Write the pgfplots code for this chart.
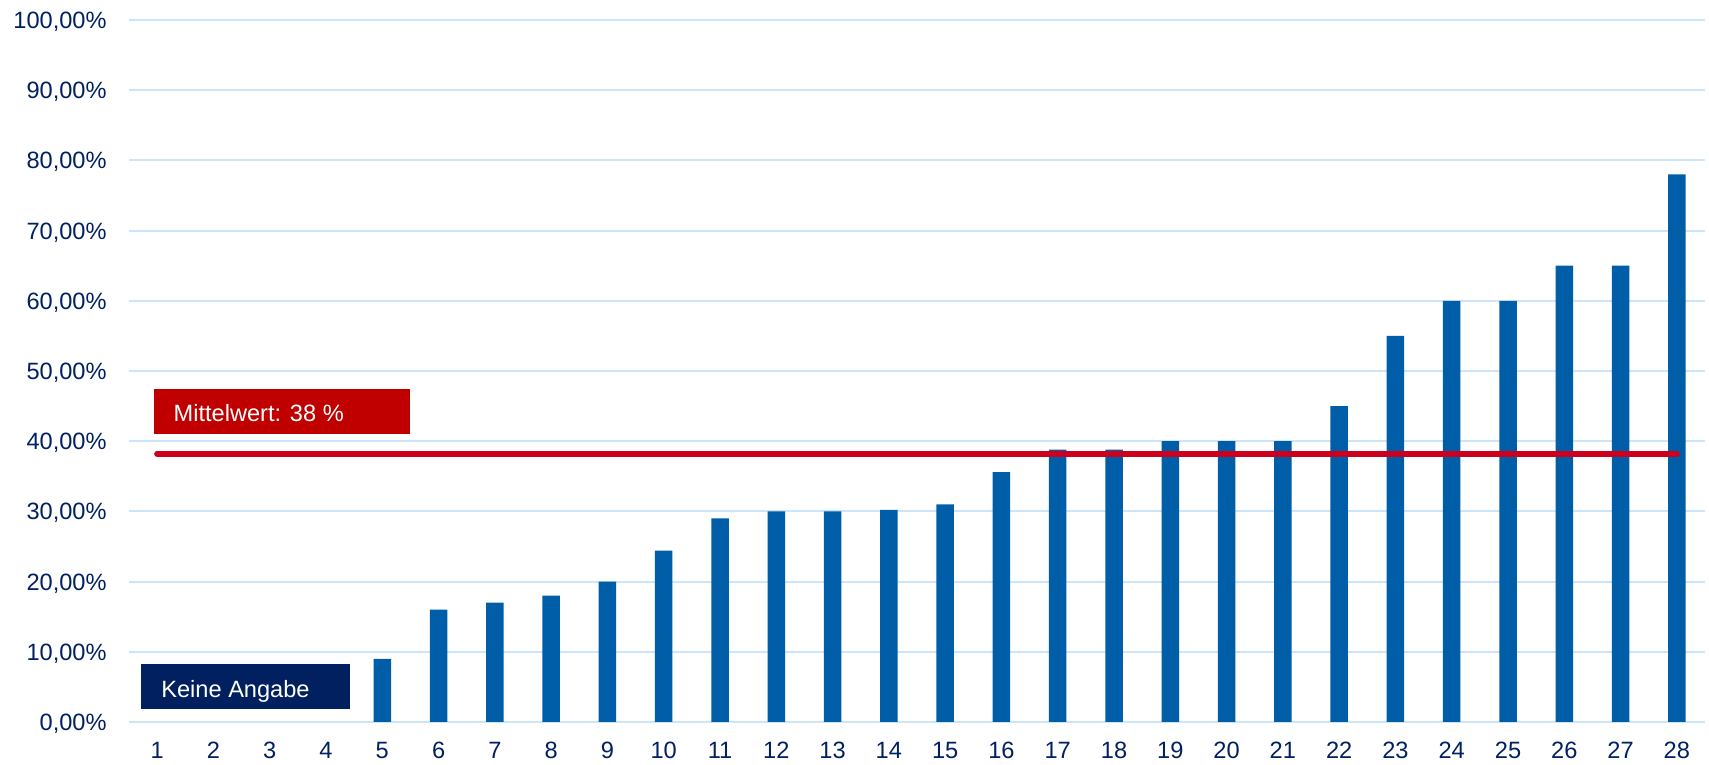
\documentclass[border=0pt]{standalone}
\usepackage{fontspec}
\setmainfont{Liberation Sans}
\usepackage{pgfplots}
\pgfplotsset{compat=1.18}
\definecolor{barblue}{RGB}{0,94,168}
\definecolor{gridblue}{RGB}{204,229,250}
\definecolor{navy}{RGB}{0,32,96}
\definecolor{meanred}{RGB}{204,0,30}
\definecolor{boxred}{RGB}{192,0,0}
\begin{document}
\begin{tikzpicture}
\path[use as bounding box] (-64.5pt,-21.5pt) rectangle (790pt,361pt);
\begin{axis}[
  at={(0,0)}, anchor=south west,
  scale only axis, width=788pt, height=351pt,
  xmin=0.5, xmax=28.5, ymin=0, ymax=100,
  axis line style={draw=none},
  major tick length=0pt,
  xtick={1,...,28},
  ytick={0,10,...,100},
  yticklabels={{0,00\%},{10,00\%},{20,00\%},{30,00\%},{40,00\%},{50,00\%},{60,00\%},{70,00\%},{80,00\%},{90,00\%},{100,00\%}},
  /pgf/number format/assume math mode=true,
  ymajorgrids,
  grid style={gridblue, line width=1pt},
  every tick label/.append style={font=\fontsize{11.8}{14}\selectfont, text=navy},
  yticklabel style={anchor=base east, inner sep=0pt, xshift=-11pt, yshift=-4.25pt},
  xticklabel style={anchor=base, inner sep=0pt, yshift=-18.25pt},
  clip=false,
]
\addplot[ybar, bar width=8.75pt, fill=barblue, draw=none] coordinates {
(5,9) (6,16) (7,17) (8,18) (9,20) (10,24.4)
(11,29) (12,30) (13,30) (14,30.2) (15,31) (16,35.6) (17,38.8) (18,38.8)
(19,40) (20,40) (21,40) (22,45) (23,55) (24,60) (25,60) (26,65) (27,65) (28,78)
};
\addplot[meanred, line width=3pt, line cap=round] coordinates {(1,38.2) (28,38.2)};
\fill[boxred] (axis cs:0.944,41.0) rectangle (axis cs:5.49,47.4);
\node[anchor=base west, inner sep=0pt, text=white, font=\fontsize{11.8}{14}\selectfont] at (axis cs:1.287,42.78) {Mittelwert: 38 \%};
\fill[navy] (axis cs:0.713,1.85) rectangle (axis cs:4.43,8.26);
\node[anchor=base west, inner sep=0pt, text=white, font=\fontsize{11.8}{14}\selectfont] at (axis cs:1.068,3.42) {Keine Angabe};
\end{axis}
\end{tikzpicture}
\end{document}
